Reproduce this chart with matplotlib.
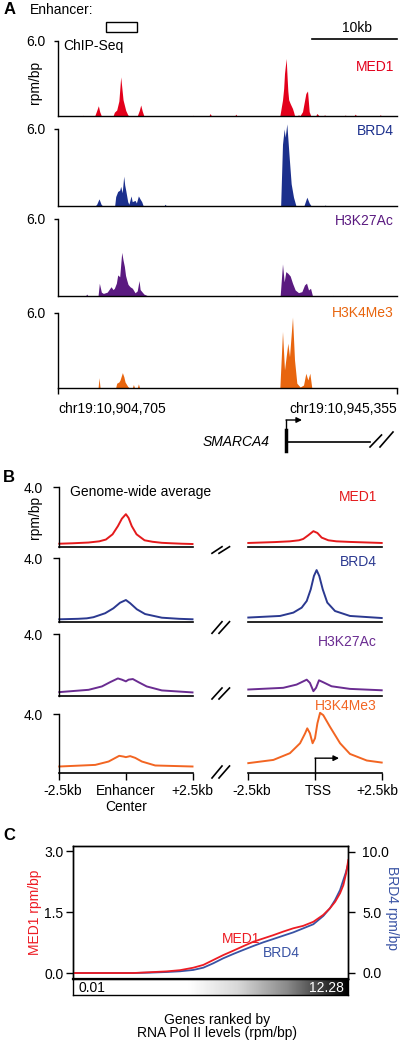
import numpy as np
import matplotlib
matplotlib.use("Agg")
import matplotlib.pyplot as plt
from matplotlib.colors import LinearSegmentedColormap
from matplotlib.patches import Rectangle, FancyArrowPatch
from matplotlib.lines import Line2D
from matplotlib.transforms import ScaledTranslation

plt.rcParams['font.family'] = ['Liberation Sans', 'DejaVu Sans']
plt.rcParams['font.size'] = 10

# ---------------- data ----------------
# Panel A: ChIP-Seq tracks, position in kb from chr19:10,904,705, signal in rpm/bp
region_kb = 40.65
track_names = ['MED1', 'BRD4', 'H3K27Ac', 'H3K4Me3']

med1_pos = [0, 2.9, 3.0, 3.1,
            4.4, 4.62, 4.84, 5.0, 5.2,
            6.6, 6.76, 7.04, 7.3, 7.52, 7.8, 8.12, 8.36, 8.5,
            9.5, 9.75, 9.92, 10.1, 10.3,
            16.1, 16.2, 16.3, 18.1, 18.24, 18.4, 21.2, 21.32, 21.45,
            26.6, 26.8, 26.92, 27.06, 27.16, 27.36, 27.48, 27.56, 27.66, 27.84, 28.12, 28.26, 28.36,
            28.7, 28.84, 29.0, 29.32, 29.72, 29.92, 30.12, 30.32,
            30.9, 31.04, 31.16, 31.3,
            31.85, 31.96, 32.1,
            34.3, 34.44, 34.6,
            35.5, 35.64, 35.8,
            38.5, 38.64, 38.8,
            40.65]
med1_val = [0, 0, 0.06, 0,
            0, 0.4, 0.82, 0.35, 0,
            0, 0.3, 0.48, 1.2, 3.13, 1.3, 0.45, 0.1, 0,
            0, 0.45, 0.88, 0.4, 0,
            0, 0.06, 0, 0, 0.2, 0, 0, 0.15, 0,
            0, 0.8, 1.27, 2.2, 3.4, 4.6, 3.0, 2.0, 1.3, 1.0, 0.6, 0.3, 0.05,
            0, 0.1, 0, 0.35, 1.8, 2.0, 0.35, 0,
            0, 0.2, 0.12, 0,
            0, 0.1, 0,
            0, 0.08, 0,
            0, 0.15, 0,
            0, 0.1, 0,
            0]

brd4_pos = [0, 4.5, 4.64, 4.92, 5.16, 5.3,
            6.8, 6.92, 7.16, 7.4, 7.52, 7.7, 7.88, 8.0, 8.12, 8.36, 8.5, 8.76, 8.9, 9.24, 9.4, 9.64, 9.85, 10.04, 10.2,
            12.75, 12.84, 12.95,
            26.7, 26.92, 27.12, 27.24, 27.44, 27.72, 27.96, 28.24, 28.52,
            29.5, 29.84, 30.12, 30.32,
            32.0, 32.04, 32.1, 40.65]
brd4_val = [0, 0, 0.1, 0.52, 0.1, 0,
            0, 0.7, 1.1, 1.2, 1.5, 1.0, 2.3, 1.6, 1.2, 0.3, 0.1, 0.75, 0.3, 0.4, 0.2, 0.75, 0.5, 0.3, 0,
            0, 0.1, 0,
            0, 4.8, 6.0, 5.35, 6.4, 3.8, 1.7, 0.65, 0,
            0, 0.65, 0.2, 0,
            0, 0.05, 0, 0]

k27_pos = [0, 3.3, 3.44, 3.6,
           4.8, 4.96, 5.2, 5.44, 5.9, 6.36, 6.6, 6.76, 7.0, 7.16, 7.4, 7.64, 7.8, 7.96, 8.1, 8.24, 8.4, 8.64, 8.92, 9.24, 9.5, 9.72, 9.85, 10.04, 10.3, 10.64, 10.8,
           21.3, 21.4, 21.5,
           26.64, 26.92, 27.12, 27.32, 27.56, 27.84, 28.12, 28.44, 28.84, 29.24, 29.56, 29.8, 30.04, 30.28, 30.52,
           32.9, 33.0, 33.1, 34.55, 34.64, 34.75, 40.65]
k27_val = [0, 0, 0.15, 0,
           0, 0.99, 0.3, 0.2, 0.3, 0.72, 0.5, 0.6, 1.0, 1.64, 1.5, 3.4, 2.8, 2.3, 1.6, 1.25, 0.9, 0.72, 0.6, 0.25, 0.4, 1.2, 0.5, 0.35, 0.15, 0.05, 0,
           0, 0.05, 0,
           0, 2.5, 1.1, 1.9, 1.77, 1.56, 1.0, 0.47, 0.26, 0.34, 0.86, 1.0, 0.47, 0.6, 0,
           0, 0.05, 0, 0, 0.05, 0, 0]

k4_pos = [0, 4.8, 4.92, 5.05,
          6.9, 7.04, 7.3, 7.44, 7.72, 7.9, 8.04, 8.36, 8.6,
          8.9, 9.04, 9.2, 9.5, 9.64, 9.8,
          26.6, 26.92, 27.16, 27.56, 27.76, 28.12, 28.36, 28.64, 29.04, 29.44, 29.72, 29.96, 30.2, 30.44,
          40.65]
k4_val = [0, 0, 0.84, 0,
          0, 0.4, 0.5, 0.66, 1.24, 0.9, 0.5, 0.15, 0,
          0, 0.3, 0, 0, 0.35, 0,
          0, 4.5, 1.45, 3.57, 2.5, 5.63, 2.25, 0.4, 0.1, 0.26, 1.19, 0.66, 1.19, 0,
          0]

# Panel B: genome-wide average profiles (kb from center / TSS, rpm/bp)
med1_enh_x = [-2.5, -2.0, -1.4, -1.0, -0.75, -0.5, -0.3, -0.15, 0, 0.1, 0.22, 0.4, 0.7, 1.0, 1.35, 1.7, 2.1, 2.5]
med1_enh_y = [0.22, 0.25, 0.3, 0.38, 0.5, 0.85, 1.4, 1.9, 2.2, 1.95, 1.4, 0.85, 0.45, 0.35, 0.28, 0.25, 0.22, 0.2]
med1_tss_x = [-2.5, -1.5, -0.94, -0.6, -0.44, -0.25, -0.06, 0.09, 0.25, 0.5, 0.8, 1.31, 2.5]
med1_tss_y = [0.27, 0.33, 0.38, 0.45, 0.54, 0.79, 1.06, 0.94, 0.63, 0.45, 0.38, 0.34, 0.27]

brd4_enh_x = [-2.5, -1.8, -1.47, -1.22, -0.78, -0.47, -0.22, 0, 0.16, 0.41, 0.72, 1.35, 2.0, 2.5]
brd4_enh_y = [0.17, 0.2, 0.23, 0.3, 0.55, 0.86, 1.21, 1.38, 1.18, 0.8, 0.5, 0.27, 0.2, 0.17]
brd4_tss_x = [-2.5, -1.31, -0.81, -0.5, -0.31, -0.16, -0.04, 0.06, 0.16, 0.29, 0.46, 0.75, 1.31, 2.5]
brd4_tss_y = [0.28, 0.38, 0.59, 0.9, 1.32, 2.05, 2.89, 3.26, 2.89, 2.05, 1.22, 0.69, 0.38, 0.25]

k27_enh_x = [-2.5, -1.4, -0.9, -0.59, -0.3, -0.15, 0, 0.1, 0.26, 0.47, 0.78, 1.35, 2.5]
k27_enh_y = [0.22, 0.37, 0.59, 0.87, 1.11, 1.03, 0.92, 1.03, 1.07, 0.87, 0.59, 0.33, 0.2]
k27_tss_x = [-2.5, -1.19, -0.69, -0.44, -0.31, -0.19, -0.06, 0.04, 0.15, 0.31, 0.62, 1.31, 2.5]
k27_tss_y = [0.39, 0.5, 0.71, 0.92, 1.03, 0.82, 0.28, 0.5, 0.99, 0.86, 0.6, 0.43, 0.34]

k4_enh_x = [-2.5, -1.15, -0.65, -0.25, -0.09, 0, 0.16, 0.35, 0.6, 1.1, 2.5]
k4_enh_y = [0.41, 0.52, 0.75, 1.14, 1.09, 1.05, 1.12, 1.0, 0.75, 0.48, 0.41]
k4_tss_x = [-2.5, -1.56, -0.94, -0.56, -0.37, -0.29, -0.19, -0.09, 0, 0.09, 0.19, 0.31, 0.56, 0.94, 1.31, 1.94, 2.5]
k4_tss_y = [0.64, 0.86, 1.32, 2.0, 2.68, 3.02, 2.68, 2.0, 2.34, 3.36, 4.08, 3.92, 3.13, 2.0, 1.27, 0.82, 0.68]

# Panel C: genes ranked by Pol II (fraction of rank), MED1 and BRD4 rpm/bp
gene_rank = [0, 0.097, 0.218, 0.279, 0.339, 0.388, 0.436, 0.473, 0.509, 0.545, 0.582, 0.618, 0.655,
             0.691, 0.727, 0.764, 0.8, 0.836, 0.873, 0.909, 0.933, 0.952, 0.97, 0.982, 0.992, 1.0]
med1_rank = [0.0, 0.0, 0.0, 0.02, 0.04, 0.07, 0.13, 0.2, 0.32, 0.44, 0.55, 0.66, 0.77,
             0.85, 0.93, 1.02, 1.1, 1.16, 1.26, 1.43, 1.59, 1.75, 1.96, 2.16, 2.45, 2.78]
brd4_rank = [0.0, 0.0, 0.0, 0.03, 0.08, 0.14, 0.25, 0.44, 0.8, 1.21, 1.57, 1.9, 2.23,
             2.53, 2.8, 3.08, 3.35, 3.68, 4.02, 4.7, 5.33, 6.02, 6.84, 7.67, 8.35, 9.04]
polii_range = ['0.01', '12.28']

# ---------------- style ----------------
W, H = 400, 1045
colA = ['#E3001B', '#1B2F8C', '#5A1A80', '#E8650E']
colB = ['#E41A1C', '#2B3990', '#6A2C91', '#F26522']
red_c, blue_c = '#ED1C24', '#3953A4'

fig = plt.figure(figsize=(W / 100, H / 100), dpi=100)


def px_axes(l, t, r, b):
    return fig.add_axes([l / W, 1 - b / H, (r - l) / W, (b - t) / H])


def ftext(x, y, s, **kw):
    fig.text(x / W, 1 - y / H, s, **kw)


def fline(xs, ys, lw=1.0, color='k'):
    fig.add_artist(Line2D([x / W for x in xs], [1 - y / H for y in ys],
                          transform=fig.transFigure, color=color, lw=lw))


def shift_label(lbl, dx_px):
    lbl.set_transform(lbl.get_transform() + ScaledTranslation(dx_px / 100, 0, fig.dpi_scale_trans))


# ---------------- panel A ----------------
ftext(4, 10, 'A', fontsize=12, fontweight='bold', va='center')
ftext(30, 10, 'Enhancer:', va='center')
fig.add_artist(Rectangle((106 / W, 1 - 32 / H), 31 / W, 10 / H, transform=fig.transFigure,
                         fill=False, ec='k', lw=1))
fline([312, 397], [39.3, 39.3], lw=1.2)
ftext(357, 28, '10kb', ha='center', va='center')
ftext(63, 46, 'ChIP-Seq', va='center')
ftext(35, 82, 'rpm/bp', rotation=90, ha='center', va='center')

tracks = [(med1_pos, med1_val), (brd4_pos, brd4_val), (k27_pos, k27_val), (k4_pos, k4_val)]
a_top = [41, 129, 219, 312.5]
a_bot = [116, 205.5, 296, 388.3]
a_lab_y = [67, 131, 221, 313]
for i, (xs, ys) in enumerate(tracks):
    ax = px_axes(58, a_top[i], 397, a_bot[i])
    ax.fill_between(xs, ys, 0, color=colA[i], lw=0, clip_on=False)
    ax.set_xlim(0, region_kb)
    ax.set_ylim(0, 6)
    ax.patch.set_visible(False)
    ax.spines[['top', 'right']].set_visible(False)
    for s in ('left', 'bottom'):
        ax.spines[s].set_linewidth(1.0)
    ax.set_yticks([6])
    ax.set_yticklabels(['6.0'])
    ax.tick_params(axis='y', length=3, width=1, pad=6, labelsize=10)
    if i == 3:
        ax.set_xticks([0, region_kb])
        ax.set_xticklabels(['chr19:10,904,705', 'chr19:10,945,355'])
        ax.tick_params(axis='x', length=4, width=1, pad=6, labelsize=10)
        lbls = ax.get_xticklabels()
        lbls[0].set_ha('left')
        lbls[1].set_ha('right')
    else:
        ax.set_xticks([])
    ftext(394, a_lab_y[i], track_names[i], color=colA[i], ha='right', va='center')

# gene model
fline([286, 286], [430, 451], lw=2.5)
fline([286, 286], [430, 420], lw=1.0)
fig.add_artist(FancyArrowPatch((286 / W, 1 - 420 / H), (302 / W, 1 - 420 / H),
                               transform=fig.transFigure, arrowstyle='-|>',
                               mutation_scale=8, lw=1, color='k', shrinkA=0, shrinkB=0))
fline([286, 370], [441.7, 441.7], lw=1.2)
fline([370, 381.5], [447, 435], lw=1.2)
fline([380, 393], [447, 432], lw=1.2)
ftext(270, 441.7, 'SMARCA4', style='italic', ha='right', va='center')

# ---------------- panel B ----------------
ftext(3, 478, 'B', fontsize=12, fontweight='bold', va='center')
ftext(70, 491.7, 'Genome-wide average', va='center')
ftext(35, 517, 'rpm/bp', rotation=90, ha='center', va='center')

profiles = [(med1_enh_x, med1_enh_y, med1_tss_x, med1_tss_y),
            (brd4_enh_x, brd4_enh_y, brd4_tss_x, brd4_tss_y),
            (k27_enh_x, k27_enh_y, k27_tss_x, k27_tss_y),
            (k4_enh_x, k4_enh_y, k4_tss_x, k4_tss_y)]
b_top = [487.3, 558.3, 634, 714]
b_bot = [547, 622, 695.5, 772.5]
b_lab_y = [497, 561.7, 641.7, 706]
brk = [(546.7, 553.3), (621.7, 633.3), (688, 699), (766, 778)]
for i, (ex, ey, tx, ty) in enumerate(profiles):
    axl = px_axes(59.3, b_top[i], 192.5, b_bot[i])
    axr = px_axes(248.3, b_top[i], 381.7, b_bot[i])
    axl.plot(ex, ey, color=colB[i], lw=1.4, clip_on=False)
    axr.plot(tx, ty, color=colB[i], lw=1.4, clip_on=False)
    for ax in (axl, axr):
        ax.set_xlim(-2.5, 2.5)
        ax.set_ylim(0, 4)
        ax.patch.set_visible(False)
        ax.spines[['top', 'right']].set_visible(False)
        ax.spines['bottom'].set_linewidth(1.2)
        ax.spines['left'].set_linewidth(1.0)
        ax.set_xticks([])
    axr.spines['left'].set_visible(False)
    axr.set_yticks([])
    axl.set_yticks([4])
    axl.set_yticklabels(['4.0'])
    axl.tick_params(axis='y', length=4.5, width=1, pad=7, labelsize=10)
    if i == 3:
        axl.set_xticks([-2.5, 0, 2.5])
        axl.set_xticklabels(['-2.5kb', 'Enhancer\nCenter', '+2.5kb'])
        axr.set_xticks([-2.5, 0, 2.5])
        axr.set_xticklabels(['-2.5kb', 'TSS', '+2.5kb'])
        for ax in (axl, axr):
            ax.tick_params(axis='x', length=5, width=1, pad=3, labelsize=10)
        ll = axl.get_xticklabels()
        rl = axr.get_xticklabels()
        shift_label(ll[0], 3)
        shift_label(rl[0], 3)
        shift_label(rl[1], 3)
        shift_label(rl[2], -4)
        axr.plot([0, 0], [0, 0.98], color='k', lw=1, clip_on=False)
        axr.annotate('', xy=(0.9, 0.98), xytext=(0, 0.98),
                     arrowprops=dict(arrowstyle='-|>', color='k', lw=1,
                                     mutation_scale=8, shrinkA=0, shrinkB=0))
    ftext(377, b_lab_y[i], track_names[i], color=colB[i], ha='right', va='center')
    y0, y1 = brk[i]
    fline([212, 222], [y1, y0], lw=1.2)
    fline([219, 229.5], [y1, y0], lw=1.2)

# ---------------- panel C ----------------
ftext(3, 835, 'C', fontsize=12, fontweight='bold', va='center')
axc = px_axes(73.3, 846, 348.3, 979)
axc2 = axc.twinx()
axc2.plot(gene_rank, brd4_rank, color=blue_c, lw=1.3)
axc.plot(gene_rank, med1_rank, color=red_c, lw=1.3)
axc.set_zorder(axc2.get_zorder() + 1)
axc.patch.set_visible(False)
axc.set_xlim(0, 1)
axc.set_ylim(-0.147, 3.123)
axc2.set_ylim(-0.495, 10.47)
axc.set_xticks([])
axc.set_yticks([0, 1.5, 3.0])
axc.set_yticklabels(['0.0', '1.5', '3.0'])
axc2.set_yticks([0, 5, 10])
axc2.set_yticklabels(['0.0', '5.0', '10.0'])
axc.tick_params(axis='y', length=5, width=1, pad=2, labelsize=10)
axc2.tick_params(axis='y', length=5, width=1, pad=5, labelsize=10)
for a in (axc, axc2):
    for s in a.spines.values():
        s.set_linewidth(1.0)
axc.spines['bottom'].set_linewidth(1.6)
axc.text(0.61, 0.30, 'MED1', color=red_c, ha='center', va='center', transform=axc.transAxes)
axc.text(0.755, 0.193, 'BRD4', color=blue_c, ha='center', va='center', transform=axc.transAxes)
ftext(35, 912, 'MED1 rpm/bp', color=red_c, rotation=90, ha='center', va='center')
ftext(392, 908, 'BRD4 rpm/bp', color=blue_c, rotation=270, ha='center', va='center')

axcb = px_axes(73.3, 979, 348.3, 995)
grey_cmap = LinearSegmentedColormap.from_list(
    'polii', [(0, 'white'), (0.42, 'white'), (0.6, '#d8d8d8'), (0.78, '#8a8a8a'),
              (0.9, '#404040'), (1.0, 'black')])
axcb.imshow(np.linspace(0, 1, 256)[None, :], aspect='auto', cmap=grey_cmap,
            extent=[0, 1, 0, 1])
axcb.set_xticks([])
axcb.set_yticks([])
for s in axcb.spines.values():
    s.set_linewidth(1.0)
axcb.text(0.02, 0.45, polii_range[0], ha='left', va='center', transform=axcb.transAxes)
axcb.text(0.985, 0.45, polii_range[1], color='white', ha='right', va='center',
          transform=axcb.transAxes)

ftext(217, 1020, 'Genes ranked by', ha='center', va='center')
ftext(217, 1033.5, 'RNA Pol II levels (rpm/bp)', ha='center', va='center')

fig.savefig('out.png', dpi=100)
